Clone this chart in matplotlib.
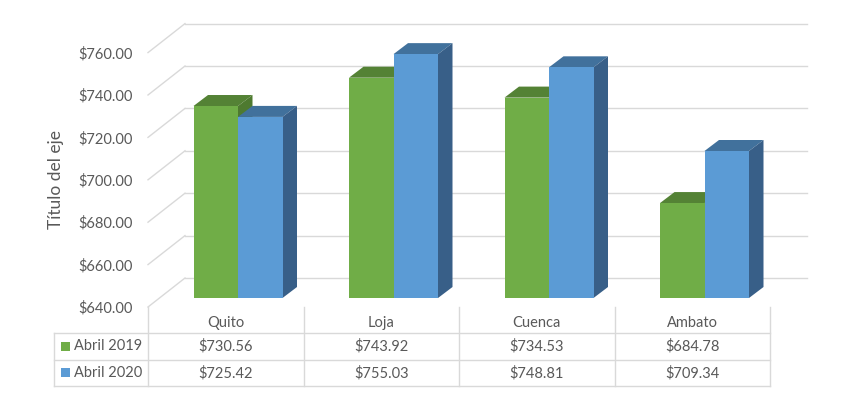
import numpy as np
import matplotlib
matplotlib.use("Agg")
import matplotlib.pyplot as plt
from matplotlib.patches import Polygon, Rectangle

# ------------------------------------------------------------------
# Data
# ------------------------------------------------------------------
cities = ["Quito", "Loja", "Cuenca", "Ambato"]
series_names = ["Abril 2019", "Abril 2020"]
abril_2019 = [730.56, 743.92, 734.53, 684.78]
abril_2020 = [725.42, 755.03, 748.81, 709.34]
y_ticks = [640, 660, 680, 700, 720, 740, 760]

# ------------------------------------------------------------------
# Style (Excel-like 3D clustered columns)
# ------------------------------------------------------------------
plt.rcParams["font.family"] = ["Lato", "DejaVu Sans"]
TXT = "#595959"
GRID = "#D9D9D9"
FRONT = ["#70AD47", "#5B9BD5"]
TOP = ["#548235", "#41719C"]
SIDE = ["#4E7A30", "#385F88"]
FS = 10.5

W, H = 857, 399
Y0, Y1 = 640, 780
X0, X1 = -0.5, 3.5
PX_X = 155.5          # px per category
PX_Y = 2.12           # px per value unit

# perspective offsets in data units
BACK_DX, BACK_DY = 37 / PX_X, 29 / PX_Y
BAR_DX, BAR_DY = 12.25 / PX_X, 9 / PX_Y
DEP_DX, DEP_DY = 14.5 / PX_X, 11 / PX_Y
BAR_W = 44.5 / PX_X

fig = plt.figure(figsize=(W / 100, H / 100), dpi=100)
ax_left, ax_bot = 148, H - 307
ax_w = (X1 - X0) * PX_X
ax = fig.add_axes([ax_left / W, ax_bot / H, ax_w / W, (Y1 - Y0) * PX_Y / H])
ax.set_xlim(X0, X1)
ax.set_ylim(Y0, Y1)
for sp in ax.spines.values():
    sp.set_visible(False)
ax.set_xticks([])
ax.set_yticks(y_ticks)
ax.set_yticklabels([f"${v:,.2f}" for v in y_ticks], color=TXT, fontsize=FS)
ax.tick_params(axis="y", length=0, pad=11)
ax.set_ylabel("Título del eje", color=TXT, fontsize=12.5)
ax.yaxis.set_label_coords((64 - ax_left) / ax_w, 0.43)

# back wall gridlines + diagonal floor/wall lines
for v in y_ticks:
    ax.plot([X0, X0 + BACK_DX], [v, v + BACK_DY], color=GRID, lw=1, clip_on=False, zorder=1)
    ax.plot([X0 + BACK_DX, X1 + BACK_DX], [v + BACK_DY] * 2, color=GRID, lw=1,
            clip_on=False, zorder=1)

# bars
x = np.arange(len(cities))
for i in range(len(cities)):
    for s, vals in enumerate([abril_2019, abril_2020]):
        xl = x[i] + BAR_DX + (s - 1) * BAR_W
        xr = xl + BAR_W
        bot = Y0 + BAR_DY
        top = vals[i] + BAR_DY
        z = 3 + 0.1 * (2 * i + s)
        ax.add_patch(Polygon([(xl, top), (xr, top), (xr + DEP_DX, top + DEP_DY),
                              (xl + DEP_DX, top + DEP_DY)], closed=True,
                             facecolor=TOP[s], edgecolor="none", zorder=z))
        ax.add_patch(Polygon([(xr, bot), (xr, top), (xr + DEP_DX, top + DEP_DY),
                              (xr + DEP_DX, bot + DEP_DY)], closed=True,
                             facecolor=SIDE[s], edgecolor="none", zorder=z))
        ax.bar(xl, vals[i] - Y0, width=BAR_W, bottom=bot, align="edge",
               color=FRONT[s], edgecolor="none", zorder=z + 0.01)

# ------------------------------------------------------------------
# Data table
# ------------------------------------------------------------------
tab_left = X0 - (148 - 54) / PX_X
tax = fig.add_axes([54 / W, (H - 386) / H, (770 - 54) / W, (386 - 307) / H])
tax.set_xlim(tab_left, X1)
tax.set_ylim(3, 0)
tax.axis("off")
for r in [1, 2, 3]:
    tax.plot([tab_left, X1], [r, r], color=GRID, lw=1, clip_on=False)
tax.plot([tab_left, tab_left], [1, 3], color=GRID, lw=1, clip_on=False)
for c in np.arange(len(cities) + 1) - 0.5:
    tax.plot([c, c], [0, 3], color=GRID, lw=1, clip_on=False)

for i, name in enumerate(cities):
    tax.text(i, 0.62, name, ha="center", va="center", color=TXT, fontsize=FS)
for s, vals in enumerate([abril_2019, abril_2020]):
    r = 1.5 + s
    for i, v in enumerate(vals):
        tax.text(i, r, f"${v:,.2f}", ha="center", va="center", color=TXT, fontsize=FS)
    sq = 9 / 26.3
    tax.add_patch(Rectangle((tab_left + 7 / PX_X, r - sq / 2), 9 / PX_X, sq,
                            facecolor=FRONT[s], edgecolor="none", clip_on=False))
    tax.text(tab_left + 20 / PX_X, r, series_names[s], ha="left", va="center",
             color=TXT, fontsize=FS)

fig.savefig("out.png", dpi=100)
